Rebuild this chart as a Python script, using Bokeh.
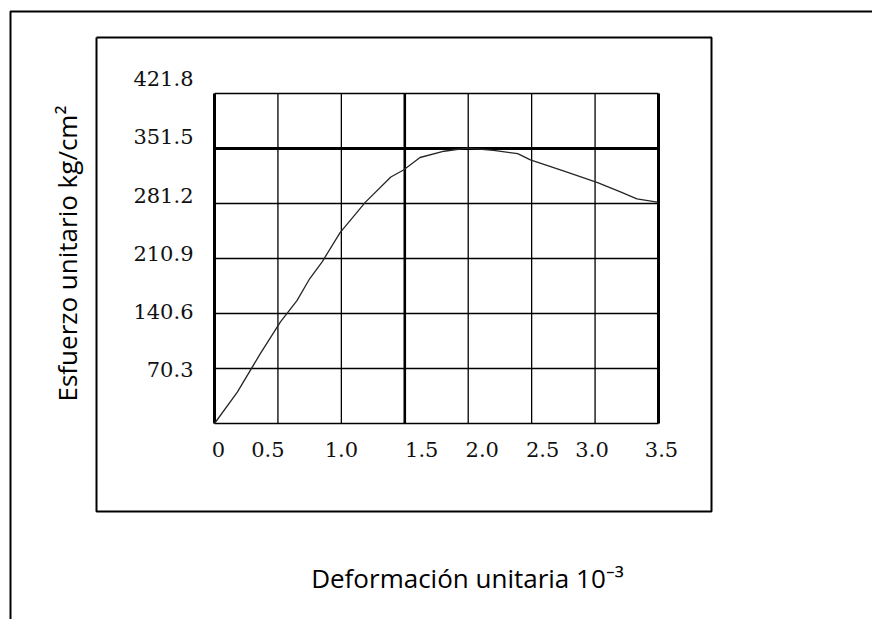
import math
from bokeh.plotting import figure
from bokeh.models import Range1d, ColumnDataSource
from bokeh.core.properties import value
from bokeh.embed import file_html
from bokeh.resources import INLINE

# ---- data ----
strain = [0, 0.18, 0.36, 0.47, 0.52, 0.65, 0.75, 0.85, 0.99, 1.19, 1.39, 1.49,
          1.62, 1.81, 1.99, 2.20, 2.39, 2.49, 2.75, 3.02, 3.20, 3.33, 3.49]
stress = [0, 40, 89, 117, 130, 157, 185, 207, 244, 283, 315, 324,
          340, 348, 352, 349, 345, 337, 323, 308, 296, 287, 283]

x_ticks = [0, 0.5, 1.0, 1.5, 2.0, 2.5, 3.0, 3.5]
x_tick_labels = ["0", "0.5", "1.0", "1.5", "2.0", "2.5", "3.0", "3.5"]
y_ticks = [0, 70.3, 140.6, 210.9, 281.2, 351.5, 421.8]
y_tick_labels = ["", "70.3", "140.6", "210.9", "281.2", "351.5", "421.8"]

x_title = "Deformación unitaria 10⁻³"
y_title = "Esfuerzo unitario kg/cm²"

# ---- layout (pixels of the reference picture) ----
W, H = 872, 619
PX0, PX1 = 214, 658      # x = 0 and x = 3.5
PY0, PY1 = 423, 93       # y = 0 and y = 421.8
kx = (PX1 - PX0) / (x_ticks[-1] - x_ticks[0])
ky = (PY0 - PY1) / (y_ticks[-1] - y_ticks[0])

def px2x(px):
    return (px - PX0) / kx

def py2y(py):
    return (PY0 - py) / ky

p = figure(width=W, height=H, output_backend="svg", toolbar_location=None,
           x_axis_location=None, y_axis_location=None,
           x_range=Range1d(px2x(0), px2x(W)),
           y_range=Range1d(py2y(H), py2y(0)),
           min_border=0, min_border_left=0, min_border_right=0,
           min_border_top=0, min_border_bottom=0)
p.outline_line_color = None
p.background_fill_color = "white"
p.border_fill_color = "white"
p.grid.visible = False

# outer box (left and top edges visible)
p.line(x=[px2x(10), px2x(10), px2x(900)], y=[py2y(700), py2y(11), py2y(11)],
       line_color="black", line_width=2)

# inner box
p.line(x=[px2x(96), px2x(711), px2x(711), px2x(96), px2x(96)],
       y=[py2y(37), py2y(37), py2y(511), py2y(511), py2y(37)],
       line_color="black", line_width=2)

# grid
xw = [3, 1.3, 1.3, 2.6, 1.3, 1.3, 1.3, 3]
yw = [1.3, 1.3, 1.3, 1.3, 1.3, 2.8, 1.3]
p.segment(x0=x_ticks, y0=[y_ticks[0]] * len(x_ticks), x1=x_ticks,
          y1=[y_ticks[-1]] * len(x_ticks), line_color="black", line_width=xw)
p.segment(x0=[x_ticks[0]] * len(y_ticks), y0=y_ticks, x1=[x_ticks[-1]] * len(y_ticks),
          y1=y_ticks, line_color="black", line_width=yw)

# curve
p.line(x=strain, y=stress, line_color="#262626", line_width=1.3)

# tick labels
ysrc = ColumnDataSource(dict(x=[x_ticks[0]] * len(y_ticks), y=y_ticks, text=y_tick_labels,
                             dy=[0, 1, -2, -5, -8, -12, -15]))
p.text(x="x", y="y", text="text", source=ysrc, x_offset=-21, y_offset="dy",
       text_font=value("DejaVu Serif"), text_font_size="21px", text_color="#111111",
       text_align="right", text_baseline="middle")

xsrc = ColumnDataSource(dict(x=x_ticks, y=[y_ticks[0]] * len(x_ticks), text=x_tick_labels,
                             dx=[4, -10, 0, 17, 14, 11, -3, 3]))
p.text(x="x", y="y", text="text", source=xsrc, x_offset="dx", y_offset=26,
       text_font=value("DejaVu Serif"), text_font_size="21px", text_color="#111111",
       text_align="center", text_baseline="middle")

# axis titles
p.text(x=[px2x(467)], y=[py2y(577)], text=[x_title], text_font=value("Open Sans"),
       text_font_size="26px", text_color="black", text_align="center",
       text_baseline="middle")
p.text(x=[px2x(66)], y=[py2y(253)], text=[y_title], angle=math.pi / 2,
       text_font=value("Open Sans"), text_font_size="26px", text_color="black",
       text_align="center", text_baseline="middle")

open("out.html", "w").write(file_html(p, INLINE))
